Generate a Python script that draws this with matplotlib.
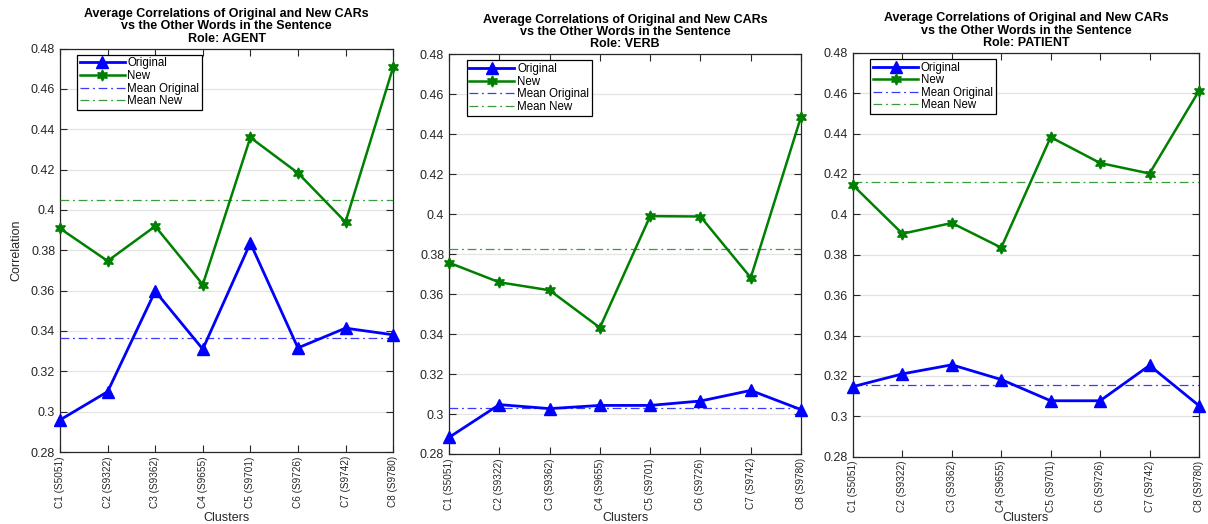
import matplotlib
matplotlib.use('Agg')
import matplotlib.pyplot as plt
import numpy as np

plt.rcParams['font.family'] = ['Liberation Sans', 'DejaVu Sans']

# data
clusters = ['C1 (S5051)', 'C2 (S9322)', 'C3 (S9362)', 'C4 (S9655)',
            'C5 (S9701)', 'C6 (S9726)', 'C7 (S9742)', 'C8 (S9780)']
roles = ['AGENT', 'VERB', 'PATIENT']

agent_orig = [0.2959, 0.3099, 0.3597, 0.3310, 0.3836, 0.3316, 0.3414, 0.3381]
agent_new = [0.3908, 0.3747, 0.3919, 0.3630, 0.4359, 0.4183, 0.3940, 0.4706]
verb_orig = [0.2883, 0.3047, 0.3027, 0.3043, 0.3043, 0.3065, 0.3118, 0.3022]
verb_new = [0.3757, 0.3659, 0.3619, 0.3432, 0.3990, 0.3988, 0.3682, 0.4487]
patient_orig = [0.3147, 0.3210, 0.3255, 0.3182, 0.3077, 0.3077, 0.3252, 0.3053]
patient_new = [0.4144, 0.3904, 0.3957, 0.3835, 0.4382, 0.4254, 0.4202, 0.4611]

originals = [agent_orig, verb_orig, patient_orig]
news = [agent_new, verb_new, patient_new]

# axes rectangles (figure fraction), matching the reference layout
rects = [[0.0497, 0.1374, 0.2757, 0.770],
         [0.3717, 0.1336, 0.2914, 0.763],
         [0.7061, 0.1284, 0.2864, 0.771]]

dark = '#262626'
green = '#008000'
xlabel_top = 1 - 512.0 / 524   # figure fraction for top of "Clusters"

fig = plt.figure(figsize=(12.08, 5.24), dpi=100)
x = np.arange(1, len(clusters) + 1)

for i in range(3):
    ax = fig.add_axes(rects[i])
    orig = np.array(originals[i])
    new = np.array(news[i])

    ax.plot(x, orig, '-', color='blue', lw=2.0, marker='^', ms=8,
            clip_on=False, zorder=4, label='Original')
    ax.plot(x, new, '-', color=green, lw=1.8, marker=(6, 1, 0), ms=8,
            clip_on=False, zorder=4, label='New')
    ax.axhline(orig.mean(), color='#3a3aff', lw=0.9, dashes=(7, 3, 1.5, 3),
               label='Mean Original', zorder=3)
    ax.axhline(new.mean(), color='#3c9c3c', lw=0.9, dashes=(7, 3, 1.5, 3),
               label='Mean New', zorder=3)

    ax.set_xlim(1, 8)
    ax.set_ylim(0.28, 0.48)
    ax.set_yticks(np.arange(0.28, 0.481, 0.02))
    ax.set_yticklabels(['0.28', '0.3', '0.32', '0.34', '0.36', '0.38', '0.4',
                        '0.42', '0.44', '0.46', '0.48'])
    ax.set_xticks(x)
    ax.set_xticklabels(clusters, rotation=90)
    ax.tick_params(direction='in', length=5, width=0.8, colors=dark,
                   top=True, right=True, labelsize=9)
    ax.tick_params(axis='x', labelsize=7.2, pad=3)
    ax.yaxis.grid(True, color='#e3e3e3', lw=0.9)
    ax.set_axisbelow(True)
    for s in ax.spines.values():
        s.set_color(dark)
        s.set_linewidth(0.9)

    ax.set_xlabel('Clusters', fontsize=9, color=dark)
    ax.xaxis.set_label_coords(0.5, (xlabel_top - rects[i][1]) / rects[i][3])
    if i == 0:
        ax.set_ylabel('Correlation', fontsize=9, color=dark, labelpad=6)

    ax.set_title('Average Correlations of Original and New CARs\n'
                 'vs the Other Words in the Sentence\n'
                 'Role: ' + roles[i],
                 fontsize=9, fontweight='bold', linespacing=1.02, pad=5)

    leg = ax.legend(loc='upper left', bbox_to_anchor=(0.05, 0.985),
                    borderaxespad=0, fontsize=8.3, handlelength=3.9,
                    handletextpad=0.25, labelspacing=0.05, borderpad=0.25,
                    fancybox=False, framealpha=1, edgecolor='black')
    leg.get_frame().set_linewidth(0.9)

plt.savefig('out.png', dpi=100)
